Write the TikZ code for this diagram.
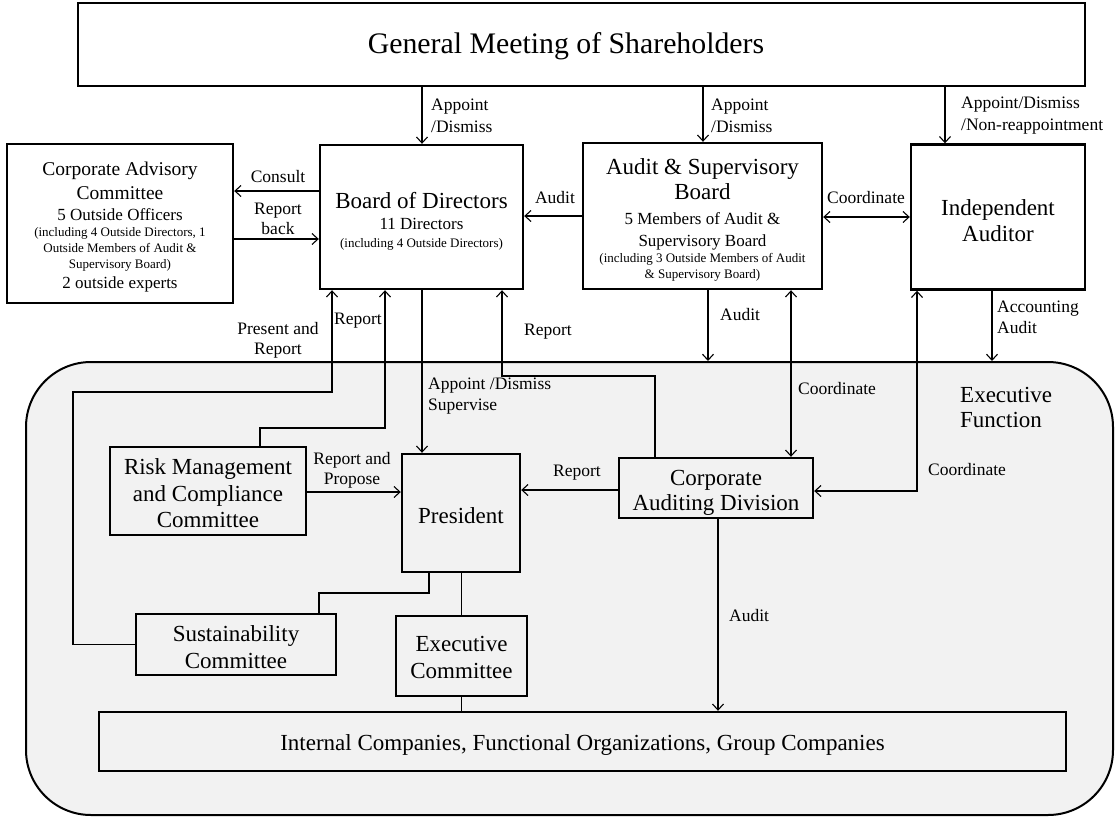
\documentclass[tikz,border=0pt]{standalone}
\usepackage{fontspec}
\setmainfont{Liberation Serif}
\usetikzlibrary{arrows.meta}
\definecolor{execgray}{HTML}{F2F2F2}
\newcommand{\nolsl}{\lineskiplimit -1000pt\relax}
\newcommand{\szBig}{\fontsize{23}{0}\selectfont}
\newcommand{\szMid}{\fontsize{17}{0}\selectfont}
\newcommand{\szCac}{\fontsize{19.5}{0}\selectfont}
\newcommand{\szSmall}{\fontsize{13}{0}\selectfont}
\newcommand{\szLbl}{\fontsize{17.5}{0}\selectfont}
\newcommand{\szGms}{\fontsize{29.8}{0}\selectfont}
\tikzset{
  box/.style={draw, line width=2.4pt, fill=white, inner sep=0pt},
  inbox/.style={box, fill=execgray},
  boxtext/.style={align=center, inner sep=0pt, font=\szBig\nolsl},
  conn/.style={line width=1.1pt},
  arr/.style={conn, -{Straight Barb[length=6pt,width=11pt,line width=1.1pt]}},
  darr/.style={conn, {Straight Barb[length=6pt,width=11pt,line width=1.1pt]}-{Straight Barb[length=6pt,width=11pt,line width=1.1pt]}},
  lbl/.style={inner sep=0pt, align=center, font=\szLbl\nolsl},
  lbll/.style={lbl, align=left, anchor=west},
}
\begin{document}
\begin{tikzpicture}[x=1pt,y=-1pt]
\fill[white] (0,0) rectangle (1120,820);
\useasboundingbox (0,0) rectangle (1120,820);

% executive function region
\node[draw, line width=2pt, fill=execgray, rounded corners=65pt, minimum width=1087pt, minimum height=453pt] (execfn) at (569.5,588.5) {};
\node[lbll, font=\szBig\nolsl] (lexec) at (960,407) {Executive\\[25pt]Function};

% boxes
\node[box, minimum width=1007pt, minimum height=83pt] (gms) at (581.5,44.5) {};
\node[box, minimum width=226pt, minimum height=159pt] (cac) at (120,223.5) {};
\node[box, minimum width=203pt, minimum height=144pt] (bod) at (421.5,217) {};
\node[box, minimum width=239pt, minimum height=146pt] (asb) at (702.5,216) {};
\node[box, minimum width=174pt, minimum height=145pt] (ia) at (998,217) {};
\node[inbox, minimum width=196pt, minimum height=88pt] (rmcc) at (208,491) {};
\node[inbox, minimum width=118pt, minimum height=118pt] (pres) at (461,513) {};
\node[inbox, minimum width=194pt, minimum height=60pt] (cad) at (716,488) {};
\node[inbox, minimum width=200pt, minimum height=61pt] (sust) at (236,644.5) {};
\node[inbox, minimum width=131pt, minimum height=80pt] (ecom) at (461.5,656) {};
\node[inbox, minimum width=967pt, minimum height=59pt] (inter) at (582.5,741.5) {};

% box texts
\node[boxtext, font=\szGms] (tgms) at (566,46) {General Meeting of Shareholders};
\node[boxtext] (tcac) at ([yshift=-4pt]cac.center)
  {\szCac Corporate Advisory\\[24pt]\szCac Committee\\[21pt]\szMid 5 Outside Officers\\[16pt]\szSmall (including 4 Outside Directors, 1\\[16pt]\szSmall Outside Members of Audit \&\\[16pt]\szSmall Supervisory Board)\\[20pt]\szMid 2 outside experts};
\node[boxtext] (tbod) at ([yshift=-4pt]bod.center)
  {Board of Directors\\[21pt]\szMid 11 Directors\\[18pt]\szSmall (including 4 Outside Directors)};
\node[boxtext] (tasb) at ([yshift=-3.5pt]asb.center)
  {Audit \& Supervisory\\[25pt]Board\\[25pt]\szMid 5 Members of Audit \&\\[22pt]\szMid Supervisory Board\\[16pt]\szSmall (including 3 Outside Members of Audit\\[16pt]\szSmall \& Supervisory Board)};
\node[boxtext] (tia) at ([yshift=-4pt]ia.center) {Independent\\[26pt]Auditor};
\node[boxtext] (trmcc) at ([yshift=-2.5pt]rmcc.center) {Risk Management\\[26.5pt]and Compliance\\[26.5pt]Committee};
\node[boxtext] (tpres) at ([yshift=-3pt]pres.center) {President};
\node[boxtext] (tcad) at ([yshift=-5pt]cad.center) {Corporate\\[25pt]Auditing Division};
\node[boxtext] (tsust) at ([yshift=-2.5pt]sust.center) {Sustainability\\[27pt]Committee};
\node[boxtext] (tecom) at ([yshift=-1pt]ecom.center) {Executive\\[27pt]Committee};
\node[boxtext] (tinter) at ([yshift=-3.5pt]inter.center) {Internal Companies, Functional Organizations, Group Companies};

% connectors
\draw[arr] (gms.south -| 422,0) -- (bod.north -| 422,0);
\draw[arr] (gms.south -| 703,0) -- (asb.north -| 703,0);
\draw[arr] (gms.south -| 945,0) -- (ia.north -| 945,0);
\draw[arr] (bod.west |- 0,191) -- (cac.east |- 0,191);
\draw[arr] (cac.east |- 0,239) -- (bod.west |- 0,239);
\draw[arr] (asb.west |- 0,216) -- (bod.east |- 0,216);
\draw[darr] (asb.east |- 0,217) -- (ia.west |- 0,217);
\draw[arr] (sust.west) -- (73,644.5) -- (73,392) -| (bod.south -| 332,0);
\draw[arr] (rmcc.north -| 260,0) -- (260,428) -| (bod.south -| 385,0);
\draw[arr] (bod.south -| 422,0) -- (pres.north -| 422,0);
\draw[arr] (cad.north -| 655,0) -- (655,376) -| (bod.south -| 502,0);
\draw[arr] (asb.south -| 708,0) -- (execfn.north -| 708,0);
\draw[darr] (asb.south -| 791,0) -- (cad.north -| 791,0);
\draw[arr] (ia.south -| 992,0) -- (execfn.north -| 992,0);
\draw[darr] (cad.east |- 0,491) -- (917,491) -- (ia.south -| 917,0);
\draw[arr] (cad.west |- 0,490) -- (pres.east |- 0,490);
\draw[arr] (rmcc.east |- 0,492) -- (pres.west |- 0,492);
\draw[arr] (cad.south -| 718,0) -- (inter.north -| 718,0);
\draw[conn] (pres.south -| 429,0) -- (429,593) -| (sust.north -| 319,0);
\draw[conn] (pres.south -| ecom.north) -- (ecom.north);
\draw[conn] (ecom.south) -- (inter.north -| ecom.south);

% labels
\node[lbll] (lapp1) at (431,116) {Appoint\\[22pt]/Dismiss};
\node[lbll] (lapp2) at (711,116) {Appoint\\[22pt]/Dismiss};
\node[lbll] (lapp3) at (961,116) {Appoint/Dismiss\\[22pt]/Non-reappointment};
\node[lbl] (lconsult) at (278,177) {Consult};
\node[lbl] (lrepback) at (278,219) {Report\\[20pt]back};
\node[lbl] (laudit1) at (555,198) {Audit};
\node[lbl] (lcoord1) at (866,198) {Coordinate};
\node[lbl] (lpresent) at (278,340) {Present and\\[20pt]Report};
\node[lbl] (lrep1) at (358,321) {Report};
\node[lbl] (lrep2) at (548,332) {Report};
\node[lbll] (lappsup) at (428,396) {Appoint /Dismiss\\[21pt]Supervise};
\node[lbll] (laudit2) at (720,315) {Audit};
\node[lbll] (lacc) at (997,317) {Accounting\\[21pt]Audit};
\node[lbll] (lcoord2) at (798,389) {Coordinate};
\node[lbl] (lrepprop) at (352,470) {Report and\\[20pt]Propose};
\node[lbl] (lrep3) at (577,473) {Report};
\node[lbll] (lcoord3) at (928,470) {Coordinate};
\node[lbll] (laudit3) at (729,616) {Audit};
\end{tikzpicture}
\end{document}
